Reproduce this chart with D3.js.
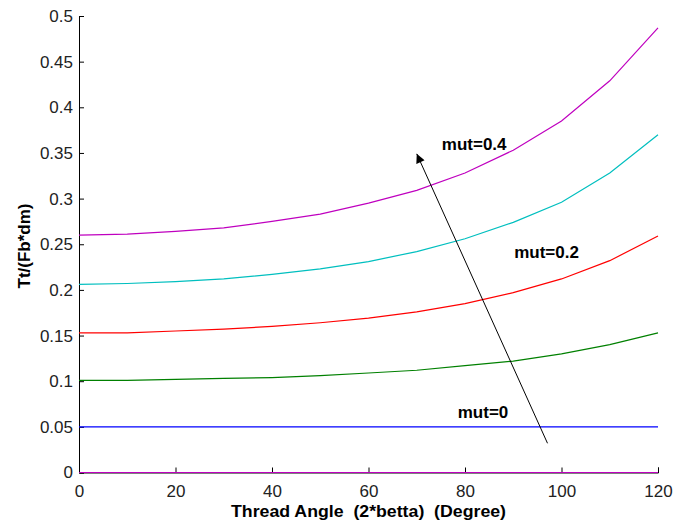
<!DOCTYPE html>
<html>
<head>
<meta charset="utf-8">
<script src="https://cdn.jsdelivr.net/npm/d3@7"></script>
<style>
  html, body { margin: 0; padding: 0; background: #fff; }
  svg { display: block; }
  text { font-family: Arial, "Liberation Sans", sans-serif; }
</style>
</head>
<body>
<svg id="chart" width="673" height="525"></svg>
<script>
// ---- data ----
const angles = [0, 10, 20, 30, 40, 50, 60, 70, 80, 90, 100, 110, 120];
const mut0   = [0.05, 0.05, 0.05, 0.05, 0.05, 0.05, 0.05, 0.05, 0.05, 0.05, 0.05, 0.05, 0.05];
const mut01  = [0.101, 0.101, 0.102, 0.103, 0.104, 0.106, 0.109, 0.112, 0.117, 0.122, 0.130, 0.140, 0.153];
const mut02  = [0.153, 0.153, 0.155, 0.157, 0.160, 0.164, 0.169, 0.176, 0.185, 0.197, 0.212, 0.232, 0.259];
const mut03  = [0.206, 0.207, 0.209, 0.212, 0.217, 0.223, 0.231, 0.242, 0.256, 0.274, 0.296, 0.328, 0.370];
const mut04  = [0.260, 0.261, 0.264, 0.268, 0.275, 0.283, 0.295, 0.309, 0.328, 0.353, 0.385, 0.429, 0.487];
const baseline = [0, 0, 0, 0, 0, 0, 0, 0, 0, 0, 0, 0, 0];
const seriesColors = ["#bf00bf", "#0000ff", "#008000", "#ff0000", "#00bfbf", "#bf00bf"];
const xTicks = [0, 20, 40, 60, 80, 100, 120];
const yTicks = [0, 0.05, 0.1, 0.15, 0.2, 0.25, 0.3, 0.35, 0.4, 0.45, 0.5];
const yTickLabels = ["0", "0.05", "0.1", "0.15", "0.2", "0.25", "0.3", "0.35", "0.4", "0.45", "0.5"];
const annotations = [
  { text: "mut=0.4", x: 75.2, y: 0.353 },
  { text: "mut=0.2", x: 90.2, y: 0.235 },
  { text: "mut=0",   x: 78.5, y: 0.0597 }
];
const arrowFrom = { x: 97.1, y: 0.032 };
const arrowTo   = { x: 70.0, y: 0.349 };
const xTitle = "Thread Angle  (2*betta)  (Degree)";
const yTitle = "Tt/(Fb*dm)";

// ---- chart ----
const svg = d3.select("#chart");
const mLeft = 79, mRight = 658, mTop = 16, mBottom = 472.5;
const x = d3.scaleLinear().domain([0, 120]).range([mLeft, mRight]);
const y = d3.scaleLinear().domain([0, 0.5]).range([mBottom, mTop]);

// x axis (ticks inward)
const xAxis = d3.axisBottom(x).tickValues(xTicks).tickSize(-5).tickPadding(12).tickFormat(d3.format("d"));
const gx = svg.append("g").attr("transform", `translate(0,${mBottom})`).call(xAxis);
gx.select(".domain").attr("stroke", "#000").attr("stroke-width", 1);
gx.selectAll(".tick line").attr("stroke", "#000");
gx.selectAll(".tick text").attr("font-size", 17).attr("fill", "#222").attr("dy", "0.71em");

// y axis (ticks inward)
const yAxis = d3.axisLeft(y).tickValues(yTicks).tickSize(-5).tickPadding(6)
  .tickFormat((d, i) => yTickLabels[i]);
const gy = svg.append("g").attr("transform", `translate(${mLeft},0)`).call(yAxis);
gy.select(".domain").attr("stroke", "#000").attr("stroke-width", 1);
gy.selectAll(".tick line").attr("stroke", "#000");
gy.selectAll(".tick text").attr("font-size", 17).attr("fill", "#222");

// lines
const line = d3.line().x((d, i) => x(angles[i])).y(d => y(d));
const allSeries = [baseline, mut0, mut01, mut02, mut03, mut04];
svg.append("g").selectAll("path").data(allSeries).join("path")
  .attr("d", d => line(d))
  .attr("fill", "none")
  .attr("stroke", (d, i) => seriesColors[i])
  .attr("stroke-width", 1.2);

// arrow
const defs = svg.append("defs");
defs.append("marker").attr("id", "ah")
  .attr("viewBox", "0 0 10 10").attr("refX", 10).attr("refY", 5)
  .attr("markerWidth", 11).attr("markerHeight", 9)
  .attr("markerUnits", "userSpaceOnUse")
  .attr("orient", "auto")
  .append("path").attr("d", "M0,0 L10,5 L0,10 Z").attr("fill", "#000");
svg.append("line")
  .attr("x1", x(arrowFrom.x)).attr("y1", y(arrowFrom.y))
  .attr("x2", x(arrowTo.x)).attr("y2", y(arrowTo.y))
  .attr("stroke", "#000").attr("stroke-width", 1)
  .attr("marker-end", "url(#ah)");

// annotations
svg.append("g").selectAll("text").data(annotations).join("text")
  .attr("x", d => x(d.x)).attr("y", d => y(d.y))
  .attr("font-size", 17).attr("font-weight", "bold").attr("fill", "#000")
  .text(d => d.text);

// axis titles
svg.append("text")
  .attr("x", (mLeft + mRight) / 2).attr("y", 517)
  .attr("text-anchor", "middle")
  .attr("font-size", 17).attr("font-weight", "bold")
  .style("white-space", "pre")
  .attr("textLength", 275).attr("lengthAdjust", "spacingAndGlyphs")
  .text(xTitle);
svg.append("text")
  .attr("transform", "translate(30,246) rotate(-90)")
  .attr("text-anchor", "middle")
  .attr("font-size", 17).attr("font-weight", "bold")
  .text(yTitle);
</script>
</body>
</html>
